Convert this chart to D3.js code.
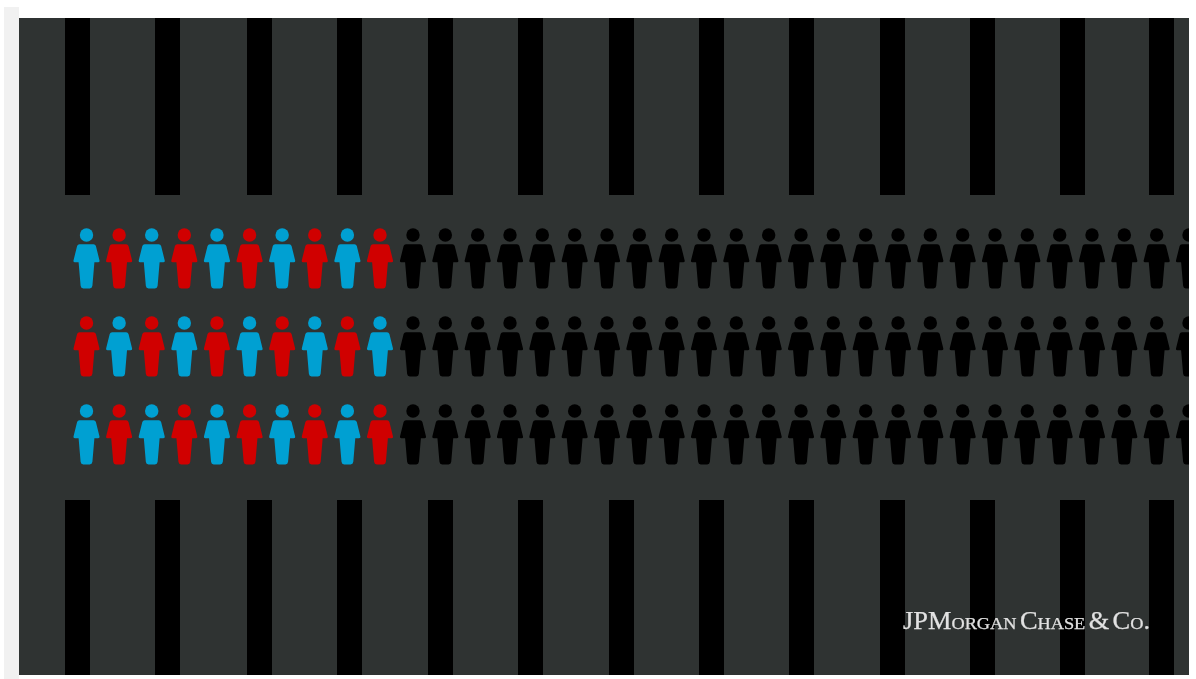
<!DOCTYPE html>
<html>
<head>
<meta charset="utf-8">
<script src="https://cdn.jsdelivr.net/npm/d3@7"></script>
<style>
  html, body { margin: 0; padding: 0; background: #fff; overflow: hidden; }
  svg { display: block; filter: blur(0.55px); }
</style>
</head>
<body>
<div id="main"></div>
<script>
const ctx = {
    WIDTH: 1196,
    HEIGHT: 679,
    BLUE: "#00a0d2",
    RED: "#d00000",
    BLACK: "#000000",
    PANEL: "#2f3332",
};

// data
const barSlots = [0, 1, 2, 3, 4, 5, 6, 7, 8, 9, 10, 11, 12];
const barBands = ["top", "bottom"];
const personRows = ["row1", "row2", "row3"];
const personColumns = d3.range(0, 35);
const row1Colours = ["blue", "red", "blue", "red", "blue", "red", "blue", "red", "blue", "red"];
const row2Colours = ["red", "blue", "red", "blue", "red", "blue", "red", "blue", "red", "blue"];
const row3Colours = ["blue", "red", "blue", "red", "blue", "red", "blue", "red", "blue", "red"];
const logoText = "JPMorgan Chase & Co.";

const rowColours = { row1: row1Colours, row2: row2Colours, row3: row3Colours };

function drawBars(svgEl) {
    // the bars are not quite evenly spaced in the picture
    const x = d3.scaleOrdinal()
        .domain(barSlots)
        .range([65, 155, 247, 337, 428, 518, 609, 699, 789, 880, 970, 1060, 1149]);
    const bandTop = { top: 18, bottom: 500 };
    const bandHeight = { top: 177, bottom: 175 };

    const cells = barBands.flatMap(b => barSlots.map(s => ({ band: b, slot: s })));
    svgEl.append("g").attr("id", "barG")
        .selectAll("rect")
        .data(cells)
        .enter()
        .append("rect")
        .attr("x", d => x(d.slot))
        .attr("y", d => bandTop[d.band])
        .attr("width", 25)
        .attr("height", d => bandHeight[d.band])
        .attr("fill", ctx.BLACK);
}

function drawPeople(svgEl) {
    // coloured group is spaced a little wider than the black one
    const x = d3.scaleLinear().domain([0, 9, 10, 34]).range([86.5, 380, 413, 1189]);
    const y = d3.scalePoint().domain(personRows).range([235, 411]);

    // body outline, origin at the centre of the head
    const body = "M-7,9.3 L7,9.3 Q8.8,9.3 9.4,11 L13,25.4 Q13.4,27.2 11.6,27.2 L7.9,27.2 " +
        "L5.9,50.8 Q5.6,53.4 3.2,53.4 L-3.2,53.4 Q-5.6,53.4 -5.9,50.8 L-7.9,27.2 L-11.6,27.2 " +
        "Q-13.4,27.2 -13,25.4 L-9.4,11 Q-8.8,9.3 -7,9.3 Z";

    const people = personRows.flatMap(r => personColumns.map(c => ({ row: r, col: c })));
    const colourOf = d => {
        const name = rowColours[d.row][d.col];
        if (name === "blue") return ctx.BLUE;
        if (name === "red") return ctx.RED;
        return ctx.BLACK;
    };

    const g = svgEl.append("g").attr("id", "peopleG")
        .attr("clip-path", "url(#panelClip)")
        .selectAll("g")
        .data(people)
        .enter()
        .append("g")
        .attr("transform", d => `translate(${x(d.col)},${y(d.row)})`)
        .attr("fill", colourOf);
    g.append("circle").attr("r", 6.7);
    g.append("path").attr("d", body);
}

function drawLogo(svgEl) {
    svgEl.append("text")
        .attr("x", 903)
        .attr("y", 628.5)
        .attr("fill", "#e2e2e2")
        .attr("stroke", "#e2e2e2")
        .attr("stroke-width", 0.25)
        .attr("font-family", "'Liberation Serif', serif")
        .attr("font-size", 24.5)
        .attr("font-variant", "small-caps")
        .attr("word-spacing", "-3px")
        .attr("textLength", 247)
        .attr("lengthAdjust", "spacingAndGlyphs")
        .text(logoText);
}

function createViz() {
    const svgEl = d3.select("#main").append("svg")
        .attr("width", ctx.WIDTH)
        .attr("height", ctx.HEIGHT);

    svgEl.append("clipPath").attr("id", "panelClip")
        .append("rect").attr("x", 19).attr("y", 18).attr("width", 1170).attr("height", 657);

    // light strip on the left of the screenshot
    svgEl.append("rect").attr("x", 4).attr("y", 7).attr("width", 15).attr("height", 672).attr("fill", "#f1f1f1");
    // panel
    svgEl.append("rect").attr("x", 19).attr("y", 18).attr("width", 1170).attr("height", 657).attr("fill", ctx.PANEL);

    drawBars(svgEl);
    drawPeople(svgEl);
    drawLogo(svgEl);
}

createViz();
</script>
</body>
</html>
